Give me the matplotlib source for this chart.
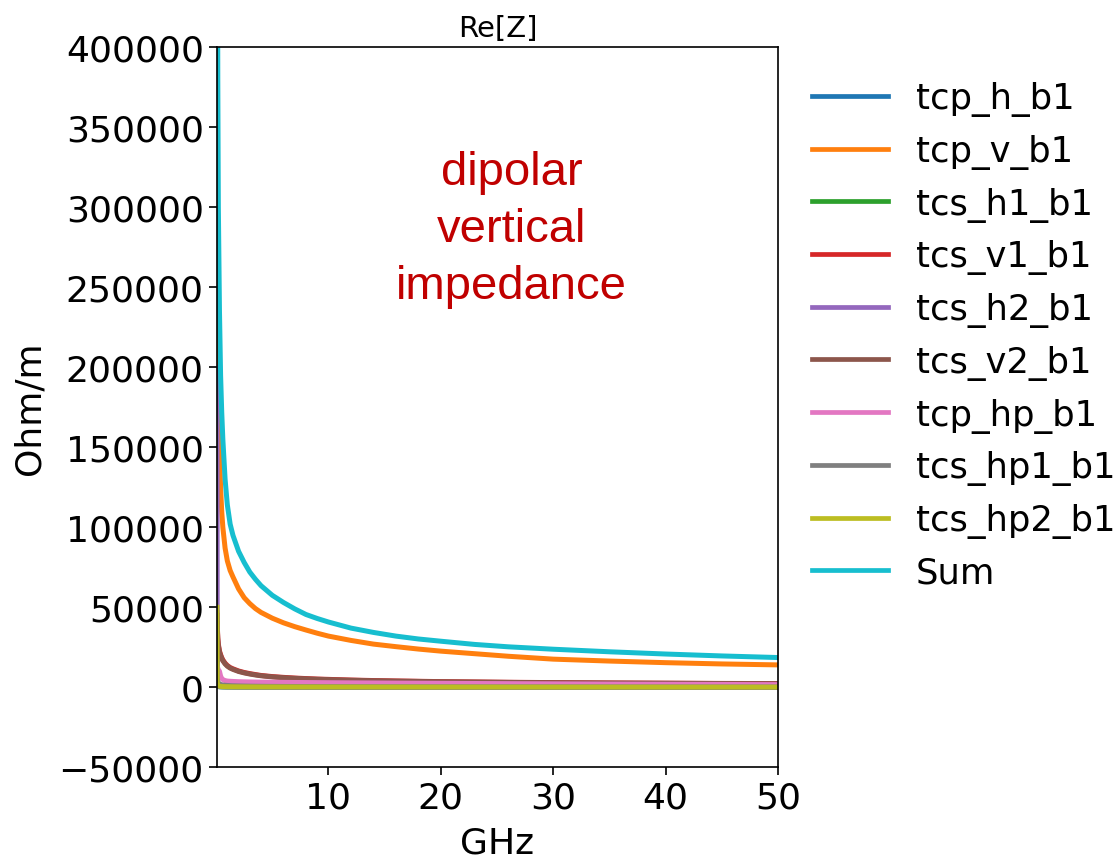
import matplotlib
matplotlib.use("Agg")
import matplotlib.pyplot as plt

# frequency grid (GHz)
freq = [0.08, 0.1, 0.15, 0.2, 0.3, 0.4, 0.5, 0.6, 0.8, 1.0, 1.25, 1.5, 2, 2.5, 3, 3.5,
        4, 5, 6, 7, 8, 9, 10, 12, 14, 16, 18, 20, 23, 26, 30, 35, 40, 45, 50]

tcp_h_b1 = [25000, 900, 600, 500, 420, 380, 350, 330, 300, 280, 265, 250, 230, 215, 200,
            190, 185, 175, 165, 158, 150, 145, 140, 132, 126, 120, 115, 110, 104, 99,
            95, 90, 85, 82, 80]
tcp_v_b1 = [400000, 330000, 240000, 195000, 150000, 125000, 110000, 100000, 87000, 79000,
            73000, 69000, 61500, 56000, 52300, 49200, 46800, 43200, 40300, 37900, 35800,
            33800, 32000, 29300, 27000, 25400, 23900, 22600, 21000, 19400, 17600, 16400,
            15400, 14600, 14000]
tcs_h1_b1 = [40000, 700, 500, 420, 350, 320, 290, 270, 250, 230, 215, 200, 180, 170, 160,
             150, 145, 135, 125, 120, 115, 110, 105, 100, 95, 90, 88, 85, 82, 79, 75,
             72, 70, 68, 65]
tcs_v1_b1 = [47000, 39500, 31000, 26900, 22700, 20400, 18550, 17100, 15050, 13600, 12350,
             11550, 10200, 9250, 8550, 7950, 7400, 6700, 6200, 5780, 5450, 5150, 4950,
             4530, 4220, 3970, 3760, 3550, 3350, 3140, 2940, 2730, 2580, 2420, 2320]
tcs_h2_b1 = [200000, 900, 700, 600, 480, 430, 390, 370, 340, 310, 290, 270, 240, 225, 210,
             200, 190, 175, 165, 158, 150, 145, 140, 130, 122, 115, 110, 105, 100, 95,
             90, 85, 80, 78, 75]
tcs_v2_b1 = [45000, 38000, 30000, 26000, 22000, 19800, 18000, 16600, 14600, 13200, 12000,
             11200, 9900, 9000, 8300, 7700, 7200, 6500, 6000, 5600, 5300, 5000, 4800,
             4400, 4100, 3850, 3650, 3450, 3250, 3050, 2850, 2650, 2500, 2350, 2250]
tcp_hp_b1 = [14000, 13000, 12000, 11000, 10000, 7000, 5500, 4800, 4200, 3900, 3750, 3650,
             3500, 3400, 3330, 3270, 3220, 3150, 3080, 3020, 2970, 2920, 2870, 2780,
             2700, 2620, 2550, 2480, 2380, 2280, 2160, 2020, 1900, 1780, 1650]
tcs_hp1_b1 = [15000, 6000, 3500, 2800, 2100, 1800, 1600, 1450, 1250, 1150, 1050, 950, 850,
              770, 700, 660, 620, 560, 520, 490, 460, 440, 420, 390, 365, 340, 325, 310,
              290, 275, 260, 240, 225, 215, 205]
tcs_hp2_b1 = [50000, 2500, 1500, 1000, 700, 560, 500, 460, 400, 370, 340, 320, 290, 270,
              250, 240, 230, 215, 205, 198, 190, 185, 180, 170, 162, 155, 150, 145, 138,
              132, 128, 122, 118, 114, 110]
Sum = [900000, 560000, 380000, 300000, 235000, 195000, 172000, 155000, 130000, 114000,
       102000, 95000, 85000, 78000, 72000, 67500, 63500, 57500, 53000, 49000, 45500,
       43000, 40800, 37000, 34300, 32000, 30200, 28800, 26800, 25300, 23800, 22200,
       20800, 19600, 18600]

series = [("tcp_h_b1", tcp_h_b1), ("tcp_v_b1", tcp_v_b1), ("tcs_h1_b1", tcs_h1_b1),
          ("tcs_v1_b1", tcs_v1_b1), ("tcs_h2_b1", tcs_h2_b1), ("tcs_v2_b1", tcs_v2_b1),
          ("tcp_hp_b1", tcp_hp_b1), ("tcs_hp1_b1", tcs_hp1_b1),
          ("tcs_hp2_b1", tcs_hp2_b1), ("Sum", Sum)]

fig = plt.figure(figsize=(11.19, 8.62), dpi=100)
ax = fig.add_axes([217 / 1119, (862 - 768.3) / 862, (778 - 217) / 1119, (768.3 - 48.3) / 862])

for name, vals in series:
    ax.plot(freq, vals, lw=3.6, label=name)

ax.set_xlim(freq[0], 50)
ax.set_ylim(-50000, 400000)
ax.set_xticks([10, 20, 30, 40, 50])
ax.set_yticks(range(-50000, 400001, 50000))
ax.tick_params(labelsize=26, length=6, width=1.2)
for s in ax.spines.values():
    s.set_linewidth(1.2)
ax.set_xlabel("GHz", fontsize=26, labelpad=8)
ax.set_ylabel("Ohm/m", fontsize=26, labelpad=9)
ax.set_title("Re[Z]", fontsize=21, pad=8)

ax.text(0.525, 0.748, "dipolar\nvertical\nimpedance", transform=ax.transAxes,
        ha="center", va="center", fontsize=34, color="#c00000", linespacing=1.38,
        family="Liberation Sans")

leg = ax.legend(loc="upper left", bbox_to_anchor=(1.003, 0.997), frameon=False,
                fontsize=25.5, labelspacing=0.5, handlelength=2.15)
for h in leg.get_lines():
    h.set_linewidth(3.4)

fig.savefig("out.png", dpi=100)
